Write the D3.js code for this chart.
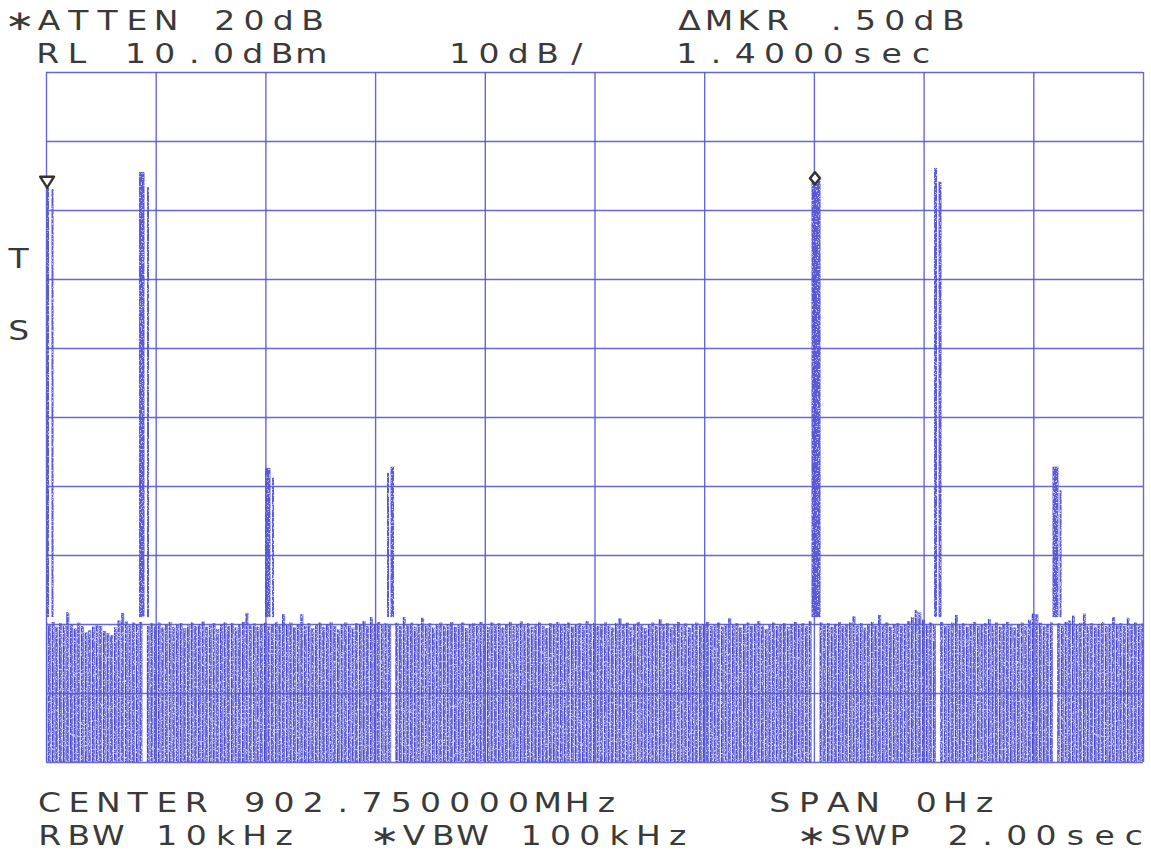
<!DOCTYPE html>
<html>
<head>
<meta charset="utf-8">
<script src="https://cdn.jsdelivr.net/npm/d3@7"></script>
<style>
  html, body { margin: 0; padding: 0; background: #fff; }
  svg { display: block; }
</style>
</head>
<body>
<svg id="chart" width="1151" height="856"></svg>
<script>
// ---- Data -------------------------------------------------------------
// Zero-span sweep: 2.00 s across the screen, reference level +10 dBm, 10 dB/div.
const sweepSeconds = 2.0;
const timeTicks = [0, 0.2, 0.4, 0.6, 0.8, 1.0, 1.2, 1.4, 1.6, 1.8, 2.0];
const levelTicks = [10, 0, -10, -20, -30, -40, -50, -60, -70, -80, -90];

// Noise-floor peak level of each of the 301 trace buckets (dBm); null = bucket
// occupied by a burst, where the trace never drops to the floor.
const noiseTop = [
  -69.8,-70.1,-69.7,-70.4,-69.9,-70.2,-68.3,-70.0,-70.6,-69.8,-70.3,-71.2,-70.9,-70.4,-70.1,
  -70.3,-71.0,-71.3,-71.6,-70.5,-69.5,-68.4,-69.6,-70.2,-69.8,-70.0,-69.7,null,-70.3,-69.9,
  -70.2,-69.8,-70.5,-70.0,-69.7,-70.4,-70.1,-69.9,-70.6,-70.2,-69.8,-70.3,-70.0,-69.6,-70.4,
  -70.2,-69.9,-70.7,-70.1,-69.8,-70.3,-69.9,-70.5,-70.0,-69.7,-68.4,-70.2,-69.9,-70.4,-70.0,
  -69.8,-70.3,-70.0,-69.7,-70.2,-68.6,-70.1,-69.8,-70.5,-70.0,-68.6,-70.3,-69.9,-70.6,-70.1,
  -69.8,-70.4,-70.0,-69.7,-70.3,-70.8,-70.1,-69.8,-70.2,-70.5,-69.9,-70.1,-69.6,-70.3,-69.0,
  -70.0,-69.7,-70.2,-69.9,-70.1,null,-69.8,-70.3,-69.0,-70.1,-69.8,-70.4,-70.0,-69.1,-70.2,
  -69.9,-70.5,-70.1,-69.8,-70.3,-70.0,-69.7,-70.4,-70.1,-69.8,-70.6,-70.0,-69.9,-70.2,-69.7,
  -70.1,-70.4,-69.8,-70.2,-69.9,-70.5,-70.0,-69.7,-70.3,-70.1,-69.6,-70.2,-69.9,-70.4,-70.0,
  -69.8,-70.3,-70.6,-69.9,-70.1,-69.7,-70.2,-70.0,-69.8,-70.4,-70.1,-69.9,-70.3,-69.6,-70.0,
  -69.9,-70.3,-70.0,-69.7,-70.2,-70.5,-69.9,-69.2,-70.1,-69.8,-70.4,-70.0,-69.7,-70.2,-70.6,
  -70.0,-69.8,-70.3,-69.3,-70.1,-69.9,-70.4,-70.0,-69.7,-70.2,-69.9,-70.5,-70.1,-69.8,-70.2,
  -70.0,-69.7,-70.3,-70.1,-69.8,-70.4,-70.0,-69.2,-70.2,-69.9,-70.5,-70.1,-69.8,-70.3,-70.0,
  -69.6,-70.2,-70.7,-70.0,-69.8,-70.3,-70.1,-69.9,-70.4,-70.0,-69.7,-70.2,-69.9,-70.3,-69.6,
  null,null,-69.8,-70.2,-69.9,-70.4,-70.0,-69.7,-70.3,-70.1,-69.8,-68.9,-70.2,-69.9,-70.5,
  -70.0,-69.7,-70.2,-68.7,-70.1,-69.8,-70.4,-70.0,-69.9,-70.3,-70.1,-69.6,-69.0,-68.0,-68.3,
  -69.4,-70.2,-69.8,-70.1,null,-69.7,-70.3,-70.0,-69.8,-68.7,-70.2,-69.9,-70.4,-70.0,-69.7,
  -70.3,-70.1,-69.9,-69.3,-70.2,-69.8,-70.4,-70.0,-69.7,-70.2,-70.5,-70.0,-69.8,-70.3,-69.4,
  -68.5,-68.6,-69.8,-70.3,-70.0,-69.8,null,-69.9,-70.2,-69.7,-69.5,-68.8,-70.1,-69.8,-68.5,
  -70.2,-69.9,-70.4,-70.0,-69.7,-70.3,-70.0,-69.0,-70.2,-69.9,-70.3,-69.1,-70.0,-69.8,-70.2,
  -69.9
];

// Burst segments: start / end time (s) and peak level (dBm).
const burstStart = [0.0009, 0.0100, 0.1696, 0.1841, 0.3993, 0.4120, 0.6217, 0.6281,
                    1.3956, 1.6190, 1.6272, 1.8350, 1.8478];
const burstEnd   = [0.0055, 0.0137, 0.1796, 0.1878, 0.4093, 0.4157, 0.6254, 0.6345,
                    1.4121, 1.6245, 1.6327, 1.8459, 1.8515];
const burstLevel = [-5.65, -6.96, -4.49, -6.70, -47.4, -48.8, -48.1, -47.2,
                    -5.80, -3.90, -5.90, -47.2, -50.6];
const burstFloor = -69.0;

// Markers: reference marker and delta marker (+1.4000 s, +0.50 dB).
const markerRefTime = 0.002;
const markerRefLevel = -5.9;
const markerDeltaTime = 1.4000;
const markerDeltaLevel = 0.50;

// Annotation text (the analyzer's asterisk sits centred on the caps)
const annotations = [
  "\u2217ATTEN 20dB", "\u0394MKR .50dB",
  "RL 10.0dBm", "10dB/", "1.4000sec",
  "T", "S",
  "CENTER 902.750000MHz", "SPAN 0Hz",
  "RBW 10kHz", "\u2217VBW 100kHz", "\u2217SWP 2.00sec"
];

// ---- Layout -------------------------------------------------------------
const plot = { left: 46, right: 1143, top: 72, bottom: 762 };
const annotationPos = [
  [5, 30], [675, 30],
  [33, 63], [445, 63], [672, 63],
  [4, 268], [4, 340],
  [35, 812], [765, 812],
  [35, 845], [370, 845], [797, 845]
];
const charPitch = 29.3;
const gridColor = "#5656d4";
const traceLight = "#7c7ce2";
const traceDark = "#4646c6";
const inkColor = "#3a3a3a";

// ---- Scales -------------------------------------------------------------
const x = d3.scaleLinear().domain([0, sweepSeconds]).range([plot.left, plot.right]);
const y = d3.scaleLinear().domain([-90, 10]).range([plot.bottom, plot.top]);

const svg = d3.select("#chart");
const defs = svg.append("defs");

defs.append("clipPath").attr("id", "plotClip")
  .append("rect")
  .attr("x", plot.left).attr("y", plot.top)
  .attr("width", plot.right - plot.left).attr("height", plot.bottom - plot.top);

// Plotter-pen grain: punch small light specks out of the dense trace fill.
const grain = defs.append("filter").attr("id", "grain")
  .attr("x", 0).attr("y", 0).attr("width", 1).attr("height", 1)
  .attr("filterUnits", "objectBoundingBox");
grain.append("feTurbulence").attr("type", "fractalNoise")
  .attr("baseFrequency", 0.75).attr("numOctaves", 1).attr("seed", 7).attr("result", "n");
grain.append("feColorMatrix").attr("in", "n").attr("type", "matrix")
  .attr("values", "0 0 0 0 0  0 0 0 0 0  0 0 0 0 0  1.6 0 0 0 -0.35").attr("result", "a");
grain.append("feComponentTransfer").attr("in", "a").attr("result", "holes")
  .append("feFuncA").attr("type", "discrete").attr("tableValues", "0 0 0 0.55 0.85");
grain.append("feComposite").attr("in", "SourceGraphic").attr("in2", "holes")
  .attr("operator", "out");

// ---- Trace --------------------------------------------------------------
const step = sweepSeconds / (noiseTop.length - 1);
const colW = x(step) - x(0);
const samples = noiseTop.map((v, i) => ({ t: i * step, v })).filter(d => d.v !== null);

const traceG = svg.append("g").attr("clip-path", "url(#plotClip)")
  .append("g").attr("filter", "url(#grain)");

traceG.selectAll("rect.noise").data(samples).join("rect")
  .attr("class", "noise")
  .attr("x", d => x(d.t) - colW / 2 + 0.35)
  .attr("width", colW - 0.7)
  .attr("y", d => y(d.v))
  .attr("height", d => y(-90) - y(d.v))
  .attr("fill", traceLight);

traceG.selectAll("line.noise").data(samples).join("line")
  .attr("class", "noise")
  .attr("x1", d => x(d.t) - colW / 2 + 0.9).attr("x2", d => x(d.t) - colW / 2 + 0.9)
  .attr("y1", d => y(d.v)).attr("y2", y(-90))
  .attr("stroke", traceDark).attr("stroke-width", 1.1);

const bursts = burstStart.map((s, i) => ({ s, e: burstEnd[i], v: burstLevel[i] }));
traceG.selectAll("rect.burst").data(bursts).join("rect")
  .attr("class", "burst")
  .attr("x", d => x(d.s))
  .attr("width", d => Math.max(1.6, x(d.e) - x(d.s)))
  .attr("y", d => y(d.v))
  .attr("height", d => y(burstFloor) - y(d.v))
  .attr("fill", "#5c5cd8");

// ---- Graticule ----------------------------------------------------------
const gx = svg.append("g")
  .attr("transform", `translate(0,${plot.bottom})`)
  .call(d3.axisBottom(x).tickValues(timeTicks)
    .tickSize(-(plot.bottom - plot.top)).tickFormat(""));
const gy = svg.append("g")
  .attr("transform", `translate(${plot.left},0)`)
  .call(d3.axisLeft(y).tickValues(levelTicks)
    .tickSize(-(plot.right - plot.left)).tickFormat(""));
[gx, gy].forEach(g => {
  g.select(".domain").remove();
  g.selectAll(".tick line").attr("stroke", gridColor).attr("stroke-width", 1.4)
    .attr("stroke-opacity", 0.9);
});

// ---- Markers ------------------------------------------------------------
const mx0 = x(markerRefTime), my0 = y(markerRefLevel);
svg.append("path")
  .attr("d", `M${mx0 - 7},${my0 - 5} L${mx0 + 7},${my0 - 5} L${mx0},${my0 + 6} Z`)
  .attr("fill", "#fff").attr("stroke", "#333").attr("stroke-width", 2.4)
  .attr("stroke-linejoin", "round");

const mx1 = x(markerRefTime + markerDeltaTime), my1 = y(markerRefLevel + markerDeltaLevel);
svg.append("path")
  .attr("d", `M${mx1},${my1 - 6} L${mx1 + 5},${my1} L${mx1},${my1 + 6} L${mx1 - 5},${my1} Z`)
  .attr("fill", "#fff").attr("stroke", "#333").attr("stroke-width", 2.6)
  .attr("stroke-linejoin", "round");

// ---- Annotation text (fixed character pitch, plotter style) --------------
const sx = 1.27;
annotations.forEach((str, k) => {
  const [px, py] = annotationPos[k];
  const t = svg.append("text")
    .attr("transform", `translate(${px},${py}) scale(${sx},1)`)
    .attr("text-anchor", "middle")
    .attr("font-family", "DejaVu Sans, sans-serif")
    .attr("font-size", 26)
    .attr("fill", inkColor);
  Array.from(str).forEach((c, i) => {
    const sp = t.append("tspan")
      .attr("x", ((i + 0.5) * charPitch) / sx)
      .attr("y", 0)
      .text(c);
    if (c === "\u2217") sp.attr("font-size", 28);
  });
});
</script>
</body>
</html>
